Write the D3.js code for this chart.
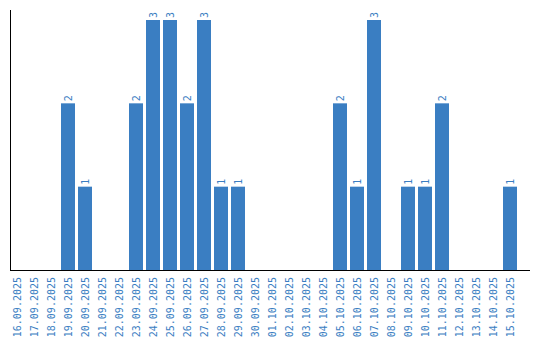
<!DOCTYPE html>
<html lang="en">
<head>
	<meta charset="UTF-8">
	<title>Daily counts</title>
	<style>
		body { margin: 0; background: #fff; }
		text { font-family: "DejaVu Sans Mono", monospace; }
	</style>
	<script src="https://d3js.org/d3.v7.min.js"></script>
</head>
<body>
	<script type="text/javascript">
		const width = 540
		const height = 340

//data
		const dates = ["16.09.2025", "17.09.2025", "18.09.2025", "19.09.2025", "20.09.2025", "21.09.2025",
			"22.09.2025", "23.09.2025", "24.09.2025", "25.09.2025", "26.09.2025", "27.09.2025",
			"28.09.2025", "29.09.2025", "30.09.2025", "01.10.2025", "02.10.2025", "03.10.2025",
			"04.10.2025", "05.10.2025", "06.10.2025", "07.10.2025", "08.10.2025", "09.10.2025",
			"10.10.2025", "11.10.2025", "12.10.2025", "13.10.2025", "14.10.2025", "15.10.2025"]
		const counts = [0, 0, 0, 2, 1, 0, 0, 2, 3, 3, 2, 3, 1, 1, 0, 0, 0, 0, 0, 2, 1, 3, 0, 1, 1, 2, 0, 0, 0, 1]

		const blue = "#3a7ec2"

		const svg = d3.select("body").append("svg")
			.attr("width", width)
			.attr("height", height)

		const x = d3.scaleBand()
			.domain(dates)
			.range([10, 517])
			.paddingInner(3 / 17)
			.paddingOuter(0)

		const y = d3.scaleLinear()
			.domain([0, 3.12])
			.range([270, 10])

		const data = dates.map((d, i) => ({ date: d, value: counts[i] }))

//bars
		svg.selectAll(".bar")
			.data(data.filter(d => d.value > 0))
			.join("rect")
			.attr("class", "bar")
			.attr("x", d => x(d.date))
			.attr("y", d => y(d.value))
			.attr("width", x.bandwidth())
			.attr("height", d => y(0) - y(d.value))
			.style("fill", blue)

//value labels
		svg.selectAll(".vlabel")
			.data(data.filter(d => d.value > 0))
			.join("text")
			.attr("class", "vlabel")
			.attr("transform", d => "translate(" + (x(d.date) + x.bandwidth() / 2 + 3.5) + "," + (y(d.value) - 2) + ") rotate(-90)")
			.style("font-size", "10px")
			.style("fill", blue)
			.text(d => d.value)

//x axis
		const xAxis = svg.append("g")
			.attr("transform", "translate(0,270)")
			.call(d3.axisBottom(x).tickSize(0).tickPadding(0))
		xAxis.select(".domain").remove()
		xAxis.selectAll("text")
			.attr("transform", "rotate(-90)")
			.attr("x", -7)
			.attr("y", 0)
			.attr("dy", "0.35em")
			.style("text-anchor", "end")
			.style("font-size", "10px")
			.style("font-family", "DejaVu Sans Mono, monospace")
			.style("fill", blue)

//axis lines
		svg.append("line")
			.attr("x1", 10.5).attr("x2", 10.5)
			.attr("y1", 10).attr("y2", 270)
			.style("stroke", "black")
		svg.append("line")
			.attr("x1", 10).attr("x2", 530)
			.attr("y1", 270.5).attr("y2", 270.5)
			.style("stroke", "black")
	</script>
</body>
</html>
